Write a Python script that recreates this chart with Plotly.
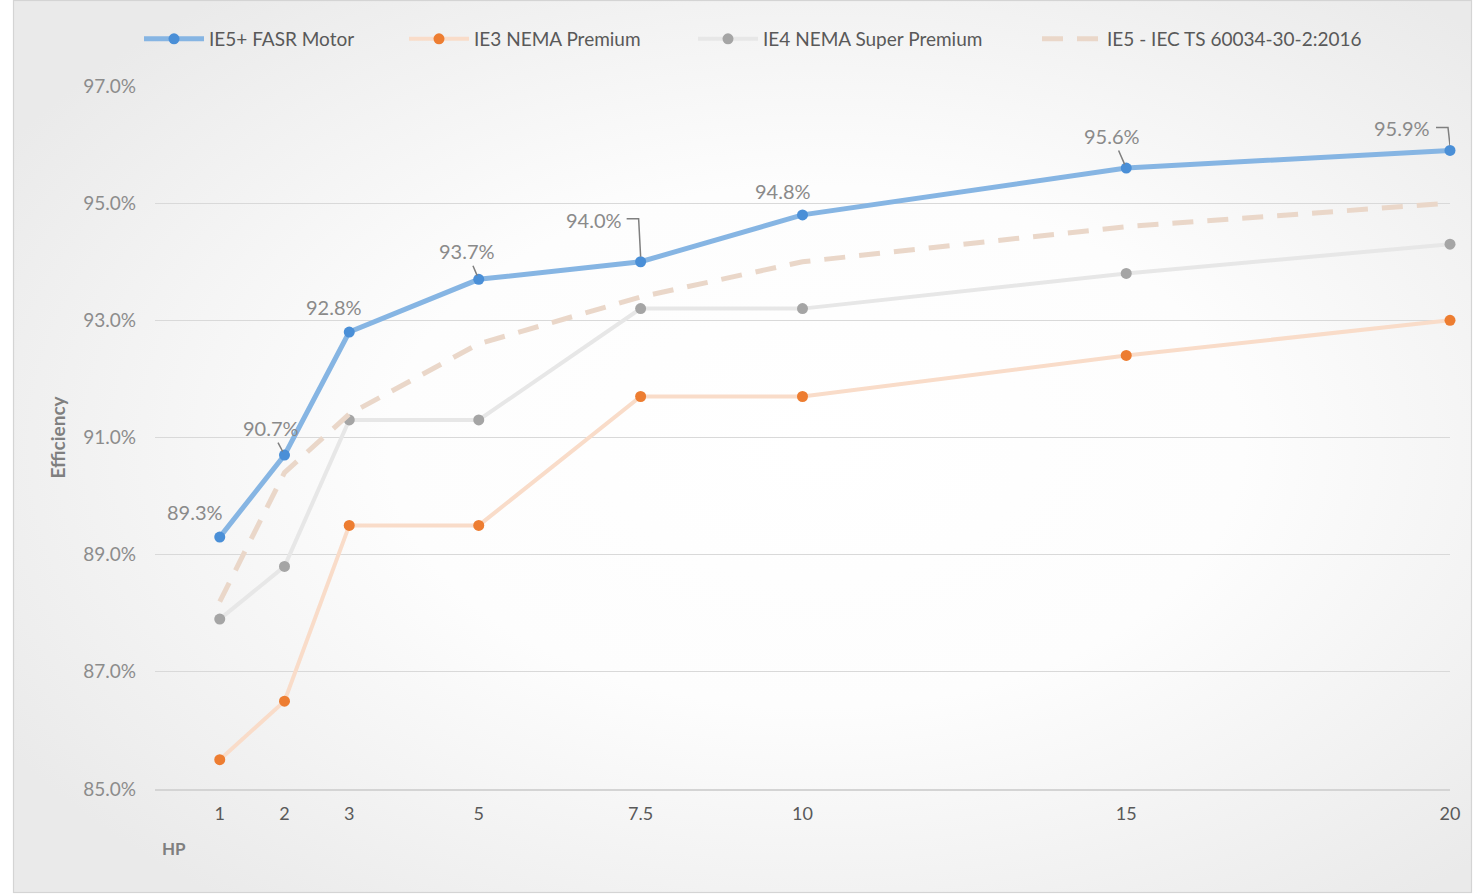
import base64
import plotly.graph_objects as go

# Motor rating (HP) and full-load efficiency (%) per class
hp = [1, 2, 3, 5, 7.5, 10, 15, 20]
ie5_fasr = [89.3, 90.7, 92.8, 93.7, 94.0, 94.8, 95.6, 95.9]
ie3_nema = [85.5, 86.5, 89.5, 89.5, 91.7, 91.7, 92.4, 93.0]
ie4_nema = [87.9, 88.8, 91.3, 91.3, 93.2, 93.2, 93.8, 94.3]
ie5_iec = [88.2, 90.4, 91.4, 92.6, 93.4, 94.0, 94.6, 95.0]
x_tick_labels = ["1", "2", "3", "5", "7.5", "10", "15", "20"]
y_ticks = [85, 87, 89, 91, 93, 95, 97]

W, H = 1482, 896
ML, MR, MT, MB = 155, 32, 86, 107
PW, PH = W - ML - MR, H - MT - MB
FONT = "Lato, 'Open Sans', sans-serif"


def px_to_paper_x(px):
    return (px - ML) / PW


def px_to_paper_y(py):
    return (MT + PH - py) / PH


fig = go.Figure()

fig.add_trace(go.Scatter(
    x=hp, y=ie3_nema, name="IE3 NEMA Premium", mode="lines+markers",
    line=dict(color="#f9dcc9", width=4),
    marker=dict(color="#ed7d31", size=11), cliponaxis=False, legend="legend2"))
fig.add_trace(go.Scatter(
    x=hp, y=ie4_nema, name="IE4 NEMA Super Premium", mode="lines+markers",
    line=dict(color="#e7e7e7", width=4),
    marker=dict(color="#a5a5a5", size=11), cliponaxis=False, legend="legend3"))
fig.add_trace(go.Scatter(
    x=hp, y=ie5_iec, name="IE5 - IEC TS 60034-30-2:2016", mode="lines",
    line=dict(color="#ead7c9", width=5, dash="21px,14px"),
    cliponaxis=False, legend="legend4"))
fig.add_trace(go.Scatter(
    x=hp, y=ie5_fasr, name="IE5+ FASR Motor", mode="lines+markers",
    line=dict(color="#86b5e3", width=5),
    marker=dict(color="#4a8fd7", size=11), cliponaxis=False, legend="legend"))

# Data labels for the FASR series: (xshift, yshift) in px and leader style
label_style = [(-25, 25, None), (-14, 27, "diag"), (-15, 25, None), (-12, 28, "diag"),
               (-47, 42, "elbow"), (-20, 24, None), (-14, 32, "diag"), (-48, 22, "elbow")]
px_x = 20 / PW
px_y = 12 / PH
lab_font = dict(family=FONT, size=20, color="#8a8a8a")
for xv, yv, (dx, dy, kind) in zip(hp, ie5_fasr, label_style):
    text = f"{yv:.1f}%"
    if kind == "diag":
        fig.add_annotation(x=xv, y=yv, text=text, showarrow=True, ax=dx, ay=-dy,
                           arrowhead=0, arrowwidth=1.5, arrowcolor="#7f7f7f",
                           standoff=4, borderpad=2, font=lab_font)
    else:
        fig.add_annotation(x=xv, y=yv, text=text, showarrow=False,
                           xshift=dx, yshift=dy, font=lab_font)
        if kind == "elbow":
            x0 = xv - 14 * px_x
            ytop = yv + (dy + 1) * px_y
            fig.add_shape(type="path",
                          path=f"M {x0} {ytop} L {xv - 2 * px_x} {ytop} L {xv} {yv + 5 * px_y}",
                          line=dict(color="#7f7f7f", width=1.5), xref="x", yref="y")

fig.add_annotation(text="<b>HP</b>", xref="paper", yref="paper",
                   x=px_to_paper_x(174), y=px_to_paper_y(849),
                   xanchor="center", yanchor="middle", showarrow=False,
                   font=dict(family=FONT, size=17, color="#7f7f7f"))

# Soft radial background with thin frame
svg = f"""<svg xmlns="http://www.w3.org/2000/svg" width="{W}" height="{H}" viewBox="0 0 {W} {H}">
<defs><radialGradient id="g" cx="55%" cy="50%" r="65%">
<stop offset="0" stop-color="#ffffff"/><stop offset="0.45" stop-color="#fdfdfd"/>
<stop offset="1" stop-color="#eaeaea"/></radialGradient></defs>
<rect x="0" y="0" width="{W}" height="{H}" fill="#ffffff"/>
<rect x="13.5" y="0.5" width="1458" height="892" fill="url(#g)" stroke="#d4d4d4" stroke-width="1.2"/>
</svg>"""
bg = "data:image/svg+xml;base64," + base64.b64encode(svg.encode()).decode()
fig.add_layout_image(source=bg, xref="paper", yref="paper",
                     x=-ML / PW, y=(PH + MT) / PH, sizex=W / PW, sizey=H / PH,
                     xanchor="left", yanchor="top", sizing="stretch", layer="below")

legend_font = dict(family=FONT, size=19, color="#595959")
legend_y = px_to_paper_y(39)
legend_common = dict(orientation="h", y=legend_y, xanchor="left", yanchor="middle",
                     itemwidth=60, font=legend_font, bgcolor="rgba(0,0,0,0)")

fig.update_layout(
    width=W, height=H,
    margin=dict(l=ML, r=MR, t=MT, b=MB, autoexpand=False),
    paper_bgcolor="#ffffff", plot_bgcolor="rgba(0,0,0,0)",
    font=dict(family=FONT, size=18, color="#595959"),
    showlegend=True,
    legend=dict(x=px_to_paper_x(139), **legend_common),
    legend2=dict(x=px_to_paper_x(404), **legend_common),
    legend3=dict(x=px_to_paper_x(693), **legend_common),
    legend4=dict(x=px_to_paper_x(1037), **legend_common),
    xaxis=dict(range=[0, 20], tickvals=hp, ticktext=x_tick_labels,
               showgrid=False, zeroline=False, showline=True,
               linecolor="#d4d4d4", linewidth=1.5, ticks="",
               ticklabelstandoff=8,
               tickfont=dict(family=FONT, size=18, color="#595959")),
    yaxis=dict(range=[85, 97], tickvals=y_ticks,
               ticktext=[f"{v:.1f}%" for v in y_ticks],
               showgrid=True, gridcolor="#d9d9d9", gridwidth=1.2, zeroline=False,
               showline=False, ticks="", ticklabelstandoff=18,
               tickfont=dict(family=FONT, size=19, color="#8c8c8c"),
               title=dict(text="<b>Efficiency</b>", standoff=12,
                          font=dict(family=FONT, size=19, color="#7f7f7f"))),
)

fig.write_html("out.html")
